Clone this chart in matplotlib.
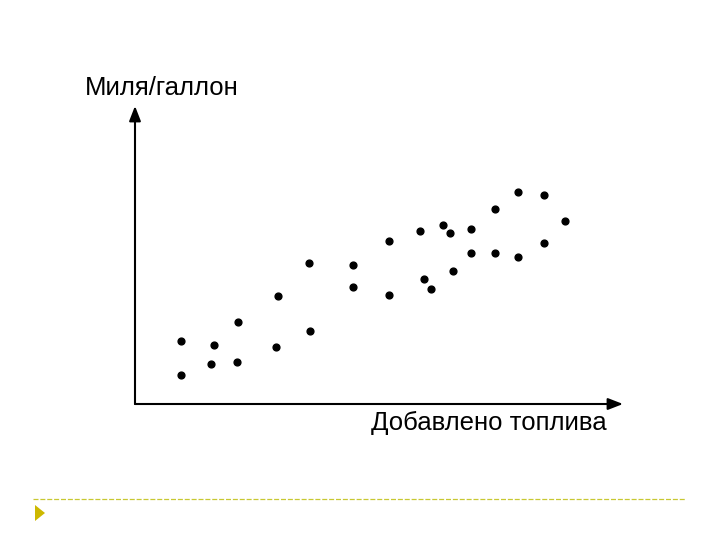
import matplotlib
matplotlib.use("Agg")
import matplotlib.pyplot as plt
from matplotlib.patches import Polygon

plt.rcParams['font.family'] = ['Liberation Sans', 'DejaVu Sans']

# Data (arbitrary units: fuel added vs miles per gallon)
fuel_added = [4.6, 4.6, 7.9, 7.6, 10.3, 10.2, 14.3, 14.1, 17.4, 17.5,
              21.8, 21.8, 25.4, 25.4, 28.5, 28.9, 29.6, 30.8, 31.5, 31.8,
              33.6, 33.6, 36.0, 36.0, 38.3, 38.3, 40.9, 40.9, 43.0]
mpg = [6.3, 2.9, 5.9, 4.0, 8.2, 4.2, 10.8, 5.7, 14.1, 7.3,
       13.9, 11.7, 16.3, 10.9, 17.3, 12.5, 11.5, 17.9, 17.1, 13.3,
       17.5, 15.1, 19.5, 15.1, 21.2, 14.7, 20.9, 16.1, 18.3]
x_label = "Добавлено топлива"
y_label = "Миля/галлон"

W, H = 720, 540
fig = plt.figure(figsize=(7.2, 5.4), dpi=100)
fig.patch.set_facecolor('white')

# axes origin at pixel (135, 404)
x0, y0 = 135, 404
ax_w, ax_h = 488, 298
ax = fig.add_axes([x0 / W, (H - y0) / H, ax_w / W, ax_h / H])
ax.set_xlim(0, ax_w / 10)
ax.set_ylim(0, ax_h / 10)
for s in ax.spines.values():
    s.set_visible(False)
ax.set_xticks([])
ax.set_yticks([])
ax.patch.set_alpha(0)

ax.scatter(fuel_added, mpg, s=24, color='black', zorder=3)

# axis arrows
arrow = dict(arrowstyle='-|>,head_length=0.9,head_width=0.35', color='black',
             lw=1.5, shrinkA=0, shrinkB=0)
ax.annotate('', xy=(1.0, 0), xytext=(0, 0), xycoords='axes fraction',
            textcoords='axes fraction', arrowprops=arrow, annotation_clip=False)
ax.annotate('', xy=(0, 1.0), xytext=(0, 0), xycoords='axes fraction',
            textcoords='axes fraction', arrowprops=arrow, annotation_clip=False)

fig.text(85 / W, 1 - 88 / H, y_label, fontsize=18.5, ha='left', va='center')
fig.text(607 / W, 1 - 423 / H, x_label, fontsize=18.5, ha='right', va='center')

# decorative dashed line and triangle bullet
fig.add_artist(plt.Line2D([33 / W, 686 / W], [1 - 499 / H, 1 - 499 / H],
                          color='#C8C832', lw=0.9, linestyle=(0, (4, 1.5))))
tri = Polygon([[35 / W, 1 - 505 / H], [35 / W, 1 - 521 / H], [45 / W, 1 - 513 / H]],
              closed=True, transform=fig.transFigure, facecolor='#CDB800',
              edgecolor='none')
fig.add_artist(tri)

fig.savefig('out.png', dpi=100)
